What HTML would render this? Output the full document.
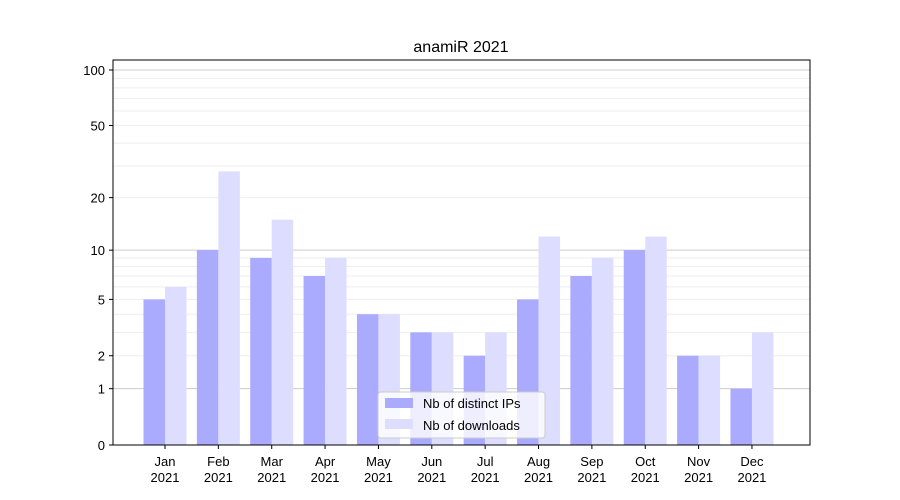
<!DOCTYPE html>
<html><head><meta charset="utf-8">
<style>body{margin:0;background:#fff}svg{display:block;font-family:"Liberation Sans","DejaVu Sans",sans-serif}</style>
</head><body>
<svg id="chart" width="900" height="500">
<rect width="900" height="500" fill="#fff"/>
<text x="461" y="52" text-anchor="middle" font-size="16">anamiR 2021</text>
<g id="grid"></g><g id="bars"></g><g id="axes"></g>
<rect x="113" y="60" width="697" height="385" fill="none" stroke="#000" stroke-width="1"/>
<g>
<rect x="378" y="392" width="167" height="46" fill="#fff" fill-opacity="0.8" stroke="#ccc" rx="3"/>
<rect x="385" y="398" width="28" height="10" fill="#aaaaff"/>
<text x="423" y="408" font-size="13">Nb of distinct IPs</text>
<rect x="385" y="419" width="28" height="10" fill="#ddddff"/>
<text x="423" y="430" font-size="13">Nb of downloads</text>
</g>
</svg>
<script>
const months=["Jan","Feb","Mar","Apr","May","Jun","Jul","Aug","Sep","Oct","Nov","Dec"];
const ipValues=[5,10,9,7,4,3,2,5,7,10,2,1];
const downloadValues=[6,28,15,9,4,3,3,12,9,12,2,3];
const tickValues=[0,1,2,5,10,20,50,100];
const NS="http://www.w3.org/2000/svg";
function y(v){return 445-187.1*Math.log10(1+v);}
function x(i){return 165+i*53.36;}
function mk(tag,attrs,parent){const e=document.createElementNS(NS,tag);for(const k in attrs)e.setAttribute(k,attrs[k]);parent.appendChild(e);return e;}
const grid=document.getElementById('grid'),bars=document.getElementById('bars'),axes=document.getElementById('axes');
for(let d=1;d<=100;d*=10){for(let m=1;m<10;m++){const v=d*m;if(v>100)break;const major=(m===1);
const l=mk('line',{x1:113,x2:810,y1:y(v),y2:y(v),stroke:major?'#ccc':'#eee','stroke-width':1},grid);

}}
const bw=21.5;
months.forEach((m,i)=>{
const b1=mk('rect',{x:x(i)-bw,y:y(ipValues[i]),width:bw,height:445-y(ipValues[i]),fill:'#aaaaff'},bars);


const b2=mk('rect',{x:x(i),y:y(downloadValues[i]),width:bw,height:445-y(downloadValues[i]),fill:'#ddddff'},bars);


mk('line',{x1:x(i),x2:x(i),y1:445,y2:449,stroke:'#000'},axes);
const t=mk('text',{x:x(i),y:466,'text-anchor':'middle','font-size':13},axes);


mk('tspan',{x:x(i),dy:0},t).textContent=m;
mk('tspan',{x:x(i),dy:16},t).textContent='2021';
});
tickValues.forEach(v=>{
mk('line',{x1:109,x2:113,y1:y(v),y2:y(v),stroke:'#000'},axes);
const t=mk('text',{x:105,y:y(v)+5,'text-anchor':'end','font-size':13},axes);


t.textContent=v;
});
</script>
</body></html>
